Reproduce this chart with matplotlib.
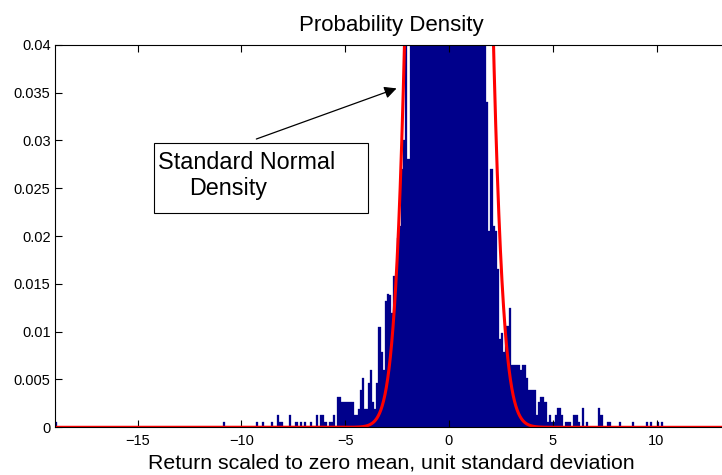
import numpy as np
import matplotlib
matplotlib.use("Agg")
import matplotlib.pyplot as plt
from matplotlib.patches import Rectangle

plt.rcParams['font.family'] = ['Liberation Sans', 'DejaVu Sans']

bin_width = 0.1

# histogram heights, one per 0.1 bin, starting at core_start (left edge)
core_start = -6.0
core_left = [0.0006, 0, 0.0006, 0.0006, 0.0013, 0, 0.0032, 0.0032, 0.0026, 0.0026,
             0.0026, 0.0026, 0.0026, 0.0026, 0.0013, 0.0013, 0.0019, 0.0039, 0.0052, 0.0019,
             0.0019, 0.0046, 0.0060, 0.0026, 0.0019, 0.0046, 0.0105, 0.0079, 0.0060, 0.0132,
             0.0139, 0.0138, 0.0120, 0.0158, 0.0145, 0.0198, 0.0210, 0.0270, 0.0300, 0.0450]
core_mid = [0.028, 0.05, 0.06, 0.07, 0.08, 0.09, 0.11, 0.13, 0.15, 0.17,
            0.20, 0.23, 0.26, 0.30, 0.34, 0.38, 0.43, 0.48, 0.52, 0.55,
            0.55, 0.52, 0.48, 0.43, 0.38, 0.34, 0.30, 0.26, 0.23, 0.20,
            0.17, 0.15, 0.13, 0.11, 0.09, 0.07]
core_right = [0.048, 0.042, 0.034, 0.0205, 0.027, 0.021, 0.0205, 0.0165, 0.0092, 0.0099,
              0.0079, 0.0106, 0.0106, 0.0125, 0.0065, 0.0065, 0.0065, 0.0065, 0.0060, 0.0065,
              0.0065, 0.0052, 0.0039, 0.0039, 0.0039, 0.0039, 0.0013, 0.0026, 0.0032, 0.0032,
              0.0026, 0.0006, 0.0013, 0.0006, 0.0006, 0.0013, 0.0020, 0.0020, 0.0013, 0,
              0.0006, 0.0006, 0.0006, 0, 0.0013, 0.0013, 0.0006, 0, 0.0020, 0,
              0.0006]

# isolated bars out in the tails (left edge, height)
tail_x = [-19.0, -10.9, -9.3, -9.0, -8.6, -8.3, -8.2, -8.1, -7.7, -7.4, -7.2, -7.0,
          -6.7, -6.4, -6.2, -6.1,
          7.2, 7.3, 7.6, 7.7, 8.2, 8.8, 9.5, 9.7, 10.0, 10.2]
tail_density = [0.0006, 0.0006, 0.0006, 0.0006, 0.0006, 0.0013, 0.0006, 0.0006, 0.0013, 0.0006, 0.0006, 0.0006,
                0.0006, 0.0013, 0.0013, 0.0013,
                0.0020, 0.0013, 0.0006, 0.0006, 0.0006, 0.0006, 0.0006, 0.0006, 0.0006, 0.0006]

xticks = [-15, -10, -5, 0, 5, 10]
yticks = [0, 0.005, 0.01, 0.015, 0.02, 0.025, 0.03, 0.035, 0.04]
ytick_labels = ['0', '0.005', '0.01', '0.015', '0.02', '0.025', '0.03', '0.035', '0.04']

core = core_left + core_mid + core_right
core_x = core_start + bin_width * np.arange(len(core))

fig = plt.figure(figsize=(7.22, 4.75), dpi=100)
ax = fig.add_axes([0.0758, 0.1004, 0.9312, 0.8055])

navy = '#00008B'
ax.bar(core_x, core, width=bin_width, align='edge', color=navy, edgecolor=navy, linewidth=0.2)
ax.bar(tail_x, tail_density, width=bin_width, align='edge', color=navy, edgecolor=navy, linewidth=0.2)

# standard normal density
xs = np.linspace(-19, 13.4, 3000)
ax.plot(xs, np.exp(-xs**2 / 2) / np.sqrt(2 * np.pi), color='red', lw=2.2)

ax.set_xlim(-19, 13.4)
ax.set_ylim(0, 0.04)
ax.set_xticks(xticks)
ax.set_yticks(yticks)
ax.set_yticklabels(ytick_labels)
ax.tick_params(direction='in', length=5, width=0.8, top=True, right=False, labelsize=10.5)
ax.tick_params(axis='x', pad=5)
ax.tick_params(axis='y', pad=3)
for s in ax.spines.values():
    s.set_linewidth(0.8)
ax.spines['right'].set_visible(False)

ax.set_title('Probability Density', fontsize=16, pad=10)
ax.set_xlabel('Return scaled to zero mean, unit standard deviation', fontsize=15.3, labelpad=4)

# text box with arrow
ax.add_patch(Rectangle((-14.2, 0.02244), 10.32, 0.00726, facecolor='white',
                       edgecolor='black', lw=0.8, zorder=5))
ax.text(-14.04, 0.02697, 'Standard Normal', fontsize=16.8, zorder=6)
ax.text(-12.5, 0.02429, 'Density', fontsize=16.8, zorder=6)
ax.annotate('', xy=(-2.4, 0.03553), xytext=(-9.41, 0.03004),
            arrowprops=dict(arrowstyle='-|>', color='black', lw=0.9, mutation_scale=18),
            zorder=6)

fig.savefig('out.png', dpi=100)
